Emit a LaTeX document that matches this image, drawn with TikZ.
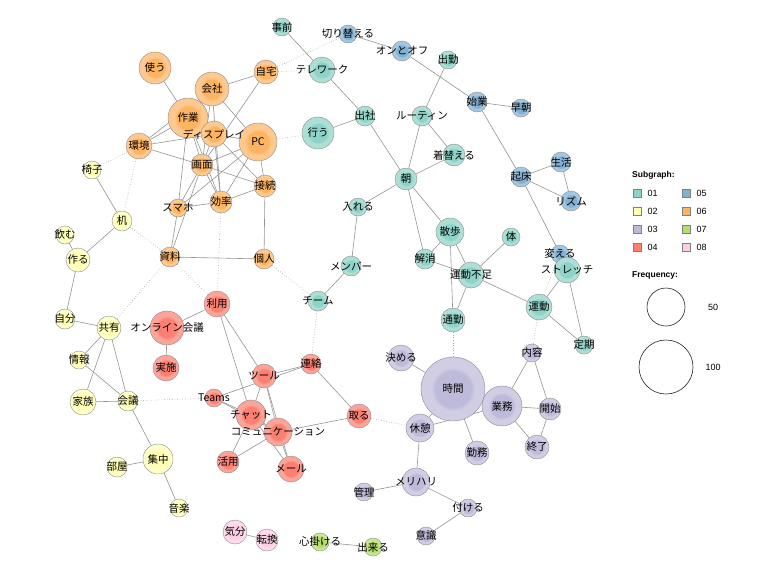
\documentclass[tikz,border=0pt]{standalone}
\usepackage{fontspec}
\setmainfont{Noto Sans CJK JP}
\newfontfamily\legendfont{Liberation Sans}
\usetikzlibrary{positioning}

\definecolor{sg1}{HTML}{8DD3C7}
\definecolor{sg2}{HTML}{FFFFB3}
\definecolor{sg3}{HTML}{BEBADA}
\definecolor{sg4}{HTML}{FB8072}
\definecolor{sg5}{HTML}{80B1D3}
\definecolor{sg6}{HTML}{FDB462}
\definecolor{sg7}{HTML}{B3DE69}
\definecolor{sg8}{HTML}{FCCDE5}
\colorlet{corein}{sg1}
\colorlet{coreout}{sg1!75!white}

% darker core inside a lighter ring
\pgfdeclareradialshading[corein,coreout]{core}{\pgfpoint{0bp}{0bp}}{color(0bp)=(corein); color(14bp)=(corein); color(17bp)=(coreout); color(25bp)=(coreout); color(50bp)=(coreout)}

\pgfdeclarelayer{edges}
\pgfsetlayers{edges,main}

\tikzset{
  word/.style={circle, draw=black!45, line width=0.4pt, inner sep=0pt, minimum size=#1pt},
  sg/.style={/utils/exec={\colorlet{corein}{#1}\colorlet{coreout}{#1!72!white}}, shading=core},
  g1/.style={sg=sg1},
  g2/.style={sg=sg2},
  g3/.style={sg=sg3},
  g4/.style={sg=sg4},
  g5/.style={sg=sg5},
  g6/.style={sg=sg6},
  g7/.style={sg=sg7},
  g8/.style={sg=sg8},
  lbl/.style={inner sep=0pt, font=\fontsize{10.5}{12}\selectfont},
  link/.style={draw=black!42, line width=0.6pt},
  cross/.style={draw=black!35, line width=0.6pt, dotted},
  key/.style={draw=black!50, line width=0.8pt, minimum size=8pt, inner sep=0pt},
  legend/.style={inner sep=0pt, font=\legendfont\fontsize{9}{10}\selectfont}
}

\begin{document}
\begin{tikzpicture}[x=1pt, y=-1pt]
		\useasboundingbox (0,0) rectangle (767,576);

		% subgraph 06
		\node[word=32, g6] (tsukau) at (155,68) {};
		\node[word=34, g6] (kaisha) at (212,89) {};
		\node[word=24, g6] (jitaku) at (266,72) {};
		\node[word=40, g6] (sagyo) at (188,118) {};
		\node[word=38, g6] (pc) at (258,142) {};
		\node[word=26, g6] (display) at (214,134) {};
		\node[word=26, g6] (kankyo) at (139,146) {};
		\node[word=22, g6] (gamen) at (202,165) {};
		\node[word=22, g6] (setsuzoku) at (265,186) {};
		\node[word=22, g6] (koritsu) at (221,202) {};
		\node[word=18, g6] (sumaho) at (178,208) {};
		\node[word=20, g6] (shiryo) at (170,257) {};
		\node[word=20, g6] (kojin) at (264,259) {};

		% subgraph 01
		\node[word=18, g1] (jizen) at (282,27) {};
		\node[word=26, g1] (telework) at (322,70) {};
		\node[word=32, g1] (okonau) at (318,133) {};
		\node[word=20, g1] (shussha) at (365,116) {};
		\node[word=20, g1] (routine) at (422,116) {};
		\node[word=18, g1] (shukkin) at (448,60) {};
		\node[word=22, g1] (kigaeru) at (454,155) {};
		\node[word=22, g1] (asa) at (406,179) {};
		\node[word=18, g1] (ireru) at (358,207) {};
		\node[word=20, g1] (member) at (351,266) {};
		\node[word=20, g1] (team) at (318,301) {};
		\node[word=28, g1] (sanpo) at (450,232) {};
		\node[word=18, g1] (karada) at (511,237) {};
		\node[word=20, g1] (kaisho) at (425,259) {};
		\node[word=26, g1] (busoku) at (471,275) {};
		\node[word=26, g1] (undo) at (539,307) {};
		\node[word=24, g1] (tsukin) at (453,320) {};
		\node[word=18, g1] (teiki) at (584,345) {};

		% subgraph 05
		\node[word=18, g5] (kirikaeru) at (348,34) {};
		\node[word=20, g5] (onoff) at (402,51) {};
		\node[word=20, g5] (shigyo) at (477,102) {};
		\node[word=18, g5] (soucho) at (521,108) {};
		\node[word=20, g5] (kisho) at (521,177) {};
		\node[word=20, g5] (seikatsu) at (561,162) {};
		\node[word=20, g5] (rhythm) at (571,201) {};
		\node[word=18, g5] (kaeru) at (560,254) {};
		\node[word=26, g1] (stretch) at (567,270) {};

		% subgraph 02
		\node[word=18, g2] (isu) at (92,170) {};
		\node[word=20, g2] (tsukue) at (122,221) {};
		\node[word=18, g2] (nomu) at (65,235) {};
		\node[word=24, g2] (tsukuru) at (78,260) {};
		\node[word=20, g2] (jibun) at (65,319) {};
		\node[word=24, g2] (kyoyu) at (109,328) {};
		\node[word=18, g2] (joho) at (79,360) {};
		\node[word=26, g2] (kazoku) at (83,402) {};
		\node[word=20, g2] (kaigi) at (128,401) {};
		\node[word=30, g2] (shuchu) at (158,459) {};
		\node[word=20, g2] (heya) at (117,467) {};
		\node[word=18, g2] (ongaku) at (179,508) {};

		% subgraph 04
		\node[word=26, g4] (riyo) at (217,304) {};
		\node[word=34, g4] (online) at (167,328) {};
		\node[word=26, g4] (jisshi) at (166,368) {};
		\node[word=20, g4] (renraku) at (311,364) {};
		\node[word=24, g4] (tool) at (264,376) {};
		\node[word=18, g4] (teams) at (214,398) {};
		\node[word=28, g4] (comm) at (278,432) {};
		\node[word=30, g4] (chat) at (251,415) {};
		\node[word=24, g4] (toru) at (359,416) {};
		\node[word=22, g4] (katsuyo) at (228,462) {};
		\node[word=26, g4] (mail) at (291,469) {};

		% subgraph 03
		\node[word=26, g3] (kimeru) at (401,358) {};
		\node[word=64, g3] (jikan) at (453,389) {};
		\node[word=40, g3] (gyomu) at (502,406) {};
		\node[word=18, g3] (naiyo) at (532,353) {};
		\node[word=22, g3] (kaishi) at (550,409) {};
		\node[word=24, g3] (shuryo) at (537,447) {};
		\node[word=28, g3] (kyukei) at (420,428) {};
		\node[word=24, g3] (kinmu) at (477,453) {};
		\node[word=28, g3] (meriharu) at (416,482) {};
		\node[word=18, g3] (kanri) at (364,492) {};
		\node[word=18, g3] (tsukeru) at (468,508) {};
		\node[word=18, g3] (ishiki) at (426,536) {};

		% subgraphs 07, 08
		\node[word=18, g7] (kokorogakeru) at (320,542) {};
		\node[word=18, g7] (dekiru) at (373,547) {};
		\node[word=24, g8] (kibun) at (235,532) {};
		\node[word=22, g8] (tenkan) at (267,540) {};

		% labels on top
		\node[lbl] (tsukau-l) at (tsukau) {使う};
		\node[lbl] (kaisha-l) at (kaisha) {会社};
		\node[lbl] (jitaku-l) at (jitaku) {自宅};
		\node[lbl] (sagyo-l) at (sagyo) {作業};
		\node[lbl] (pc-l) at (pc) {PC};
		\node[lbl] (display-l) at (display) {ディスプレイ};
		\node[lbl] (kankyo-l) at (kankyo) {環境};
		\node[lbl] (gamen-l) at (gamen) {画面};
		\node[lbl] (setsuzoku-l) at (setsuzoku) {接続};
		\node[lbl] (koritsu-l) at (koritsu) {効率};
		\node[lbl] (sumaho-l) at (sumaho) {スマホ};
		\node[lbl] (shiryo-l) at (shiryo) {資料};
		\node[lbl] (kojin-l) at (kojin) {個人};
		\node[lbl] (jizen-l) at (jizen) {事前};
		\node[lbl] (telework-l) at (telework) {テレワーク};
		\node[lbl] (okonau-l) at (okonau) {行う};
		\node[lbl] (shussha-l) at (shussha) {出社};
		\node[lbl] (routine-l) at (routine) {ルーティン};
		\node[lbl] (shukkin-l) at (shukkin) {出勤};
		\node[lbl] (kigaeru-l) at (kigaeru) {着替える};
		\node[lbl] (asa-l) at (asa) {朝};
		\node[lbl] (ireru-l) at (ireru) {入れる};
		\node[lbl] (member-l) at (member) {メンバー};
		\node[lbl] (team-l) at (team) {チーム};
		\node[lbl] (sanpo-l) at (sanpo) {散歩};
		\node[lbl] (karada-l) at (karada) {体};
		\node[lbl] (kaisho-l) at (kaisho) {解消};
		\node[lbl] (busoku-l) at (busoku) {運動不足};
		\node[lbl] (undo-l) at (undo) {運動};
		\node[lbl] (tsukin-l) at (tsukin) {通勤};
		\node[lbl] (stretch-l) at (stretch) {ストレッチ};
		\node[lbl] (teiki-l) at (teiki) {定期};
		\node[lbl] (kirikaeru-l) at (kirikaeru) {切り替える};
		\node[lbl] (onoff-l) at (onoff) {オンとオフ};
		\node[lbl] (shigyo-l) at (shigyo) {始業};
		\node[lbl] (soucho-l) at (soucho) {早朝};
		\node[lbl] (kisho-l) at (kisho) {起床};
		\node[lbl] (seikatsu-l) at (seikatsu) {生活};
		\node[lbl] (rhythm-l) at (rhythm) {リズム};
		\node[lbl] (kaeru-l) at (kaeru) {変える};
		\node[lbl] (isu-l) at (isu) {椅子};
		\node[lbl] (tsukue-l) at (tsukue) {机};
		\node[lbl] (nomu-l) at (nomu) {飲む};
		\node[lbl] (tsukuru-l) at (tsukuru) {作る};
		\node[lbl] (jibun-l) at (jibun) {自分};
		\node[lbl] (kyoyu-l) at (kyoyu) {共有};
		\node[lbl] (joho-l) at (joho) {情報};
		\node[lbl] (kazoku-l) at (kazoku) {家族};
		\node[lbl] (kaigi-l) at (kaigi) {会議};
		\node[lbl] (shuchu-l) at (shuchu) {集中};
		\node[lbl] (heya-l) at (heya) {部屋};
		\node[lbl] (ongaku-l) at (ongaku) {音楽};
		\node[lbl] (riyo-l) at (riyo) {利用};
		\node[lbl] (online-l) at (online) {オンライン会議};
		\node[lbl] (jisshi-l) at (jisshi) {実施};
		\node[lbl] (renraku-l) at (renraku) {連絡};
		\node[lbl] (tool-l) at (tool) {ツール};
		\node[lbl] (teams-l) at (teams) {Teams};
		\node[lbl] (chat-l) at (chat) {チャット};
		\node[lbl] (comm-l) at (comm) {コミュニケーション};
		\node[lbl] (toru-l) at (toru) {取る};
		\node[lbl] (katsuyo-l) at (katsuyo) {活用};
		\node[lbl] (mail-l) at (mail) {メール};
		\node[lbl] (kimeru-l) at (kimeru) {決める};
		\node[lbl] (jikan-l) at (jikan) {時間};
		\node[lbl] (gyomu-l) at (gyomu) {業務};
		\node[lbl] (naiyo-l) at (naiyo) {内容};
		\node[lbl] (kaishi-l) at (kaishi) {開始};
		\node[lbl] (shuryo-l) at (shuryo) {終了};
		\node[lbl] (kyukei-l) at (kyukei) {休憩};
		\node[lbl] (kinmu-l) at (kinmu) {勤務};
		\node[lbl] (meriharu-l) at (meriharu) {メリハリ};
		\node[lbl] (kanri-l) at (kanri) {管理};
		\node[lbl] (tsukeru-l) at (tsukeru) {付ける};
		\node[lbl] (ishiki-l) at (ishiki) {意識};
		\node[lbl] (kokorogakeru-l) at (kokorogakeru) {心掛ける};
		\node[lbl] (dekiru-l) at (dekiru) {出来る};
		\node[lbl] (kibun-l) at (kibun) {気分};
		\node[lbl] (tenkan-l) at (tenkan) {転換};

		\begin{pgfonlayer}{edges}
		% 06
		\draw[link] (tsukau) -- (sagyo);
		\draw[link] (kaisha) -- (sagyo);
		\draw[link] (kaisha) -- (jitaku);
		\draw[link] (kaisha) -- (pc);
		\draw[link] (kaisha) -- (gamen);
		\draw[link] (kaisha) -- (koritsu);
		\draw[link] (kankyo) -- (sagyo);
		\draw[link] (kankyo) -- (kaisha);
		\draw[link] (kankyo) -- (display);
		\draw[link] (kankyo) -- (gamen);
		\draw[link] (sagyo) -- (display);
		\draw[link] (sagyo) -- (gamen);
		\draw[link] (sagyo) -- (koritsu);
		\draw[link] (sagyo) -- (sumaho);
		\draw[link] (display) -- (pc);
		\draw[link] (display) -- (gamen);
		\draw[link] (display) -- (setsuzoku);
		\draw[link] (display) -- (koritsu);
		\draw[link] (pc) -- (gamen);
		\draw[link] (pc) -- (setsuzoku);
		\draw[link] (pc) -- (koritsu);
		\draw[link] (pc) -- (sumaho);
		\draw[link] (gamen) -- (setsuzoku);
		\draw[link] (gamen) -- (koritsu);
		\draw[link] (gamen) -- (sumaho);
		\draw[link] (jitaku) -- (gamen);
		\draw[link] (koritsu) -- (setsuzoku);
		\draw[link] (koritsu) -- (sumaho);
		\draw[link] (setsuzoku) -- (kojin);
		\draw[link] (shiryo) -- (kojin);
		\draw[link] (shiryo) -- (sumaho);
		\draw[link] (shiryo) -- (gamen);
		% 01
		\draw[link] (jizen) -- (telework);
		\draw[link] (telework) -- (shussha);
		\draw[link] (okonau) -- (shussha);
		\draw[link] (shussha) -- (asa);
		\draw[link] (routine) -- (shukkin);
		\draw[link] (routine) -- (asa);
		\draw[link] (routine) -- (kigaeru);
		\draw[link] (asa) -- (kigaeru);
		\draw[link] (asa) -- (ireru);
		\draw[link] (asa) -- (sanpo);
		\draw[link] (asa) -- (kaisho);
		\draw[link] (ireru) -- (member);
		\draw[link] (member) -- (team);
		\draw[link] (sanpo) -- (kaisho);
		\draw[link] (sanpo) -- (busoku);
		\draw[link] (sanpo) -- (tsukin);
		\draw[link] (kaisho) -- (busoku);
		\draw[link] (karada) -- (busoku);
		\draw[link] (busoku) -- (tsukin);
		\draw[link] (busoku) -- (undo);
		\draw[link] (undo) -- (stretch);
		\draw[link] (undo) -- (teiki);
		\draw[link] (stretch) -- (teiki);
		% 05
		\draw[link] (kirikaeru) -- (onoff);
		\draw[link] (onoff) -- (shigyo);
		\draw[link] (shigyo) -- (soucho);
		\draw[link] (shigyo) -- (kisho);
		\draw[link] (kisho) -- (seikatsu);
		\draw[link] (kisho) -- (rhythm);
		\draw[link] (seikatsu) -- (rhythm);
		\draw[link] (kisho) -- (kaeru);
		% 02
		\draw[link] (isu) -- (tsukue);
		\draw[link] (tsukue) -- (tsukuru);
		\draw[link] (nomu) -- (tsukuru);
		\draw[link] (tsukuru) -- (jibun);
		\draw[link] (jibun) -- (kyoyu);
		\draw[link] (kyoyu) -- (joho);
		\draw[link] (kyoyu) -- (kazoku);
		\draw[link] (kyoyu) -- (kaigi);
		\draw[link] (joho) -- (kaigi);
		\draw[link] (kazoku) -- (kaigi);
		\draw[link] (kaigi) -- (shuchu);
		\draw[link] (shuchu) -- (heya);
		\draw[link] (shuchu) -- (ongaku);
		% 04
		\draw[link] (riyo) -- (online);
		\draw[link] (online) -- (jisshi);
		\draw[link] (riyo) -- (tool);
		\draw[link] (riyo) -- (chat);
		\draw[link] (renraku) -- (tool);
		\draw[link] (teams) -- (renraku);
		\draw[link] (tool) -- (chat);
		\draw[link] (tool) -- (comm);
		\draw[link] (tool) -- (mail);
		\draw[link] (teams) -- (chat);
		\draw[link] (teams) -- (comm);
		\draw[link] (chat) -- (comm);
		\draw[link] (chat) -- (katsuyo);
		\draw[link] (comm) -- (katsuyo);
		\draw[link] (chat) -- (mail);
		\draw[link] (comm) -- (mail);
		\draw[link] (comm) -- (toru);
		\draw[link] (renraku) -- (toru);
		% 03
		\draw[link] (kimeru) -- (jikan);
		\draw[link] (jikan) -- (gyomu);
		\draw[link] (jikan) -- (kyukei);
		\draw[link] (jikan) -- (kinmu);
		\draw[link] (gyomu) -- (kyukei);
		\draw[link] (gyomu) -- (naiyo);
		\draw[link] (gyomu) -- (kaishi);
		\draw[link] (gyomu) -- (shuryo);
		\draw[link] (naiyo) -- (kaishi);
		\draw[link] (kaishi) -- (shuryo);
		\draw[link] (kyukei) -- (meriharu);
		\draw[link] (meriharu) -- (kanri);
		\draw[link] (meriharu) -- (tsukeru);
		\draw[link] (tsukeru) -- (ishiki);
		% 07, 08
		\draw[link] (kokorogakeru) -- (dekiru);
		\draw[link] (kibun) -- (tenkan);
		% between subgraphs
		\draw[cross] (jitaku) -- (telework);
		\draw[cross] (jitaku) -- (kirikaeru);
		\draw[cross] (pc) -- (okonau);
		\draw[cross] (kankyo) -- (isu);
		\draw[cross] (kankyo) -- (tsukue);
		\draw[cross] (tsukue) -- (shiryo);
		\draw[cross] (shiryo) -- (riyo);
		\draw[cross] (shiryo) -- (kyoyu);
		\draw[cross] (koritsu) -- (riyo);
		\draw[cross] (kojin) -- (team);
		\draw[cross] (team) -- (renraku);
		\draw[cross] (tsukin) -- (jikan);
		\draw[cross] (undo) -- (naiyo);
		\draw[cross] (undo) -- (kaeru);
		\draw[cross] (kaigi) -- (teams);
		\draw[cross] (toru) -- (kyukei);
		\end{pgfonlayer}

		% legend
		\node[legend, anchor=west, font=\legendfont\bfseries\fontsize{8.5}{10}\selectfont] (sub-h) at (632,175) {Subgraph:};
		\node[key, fill=sg1] (k1) at (637,193) {};
		\node[key, fill=sg2] (k2) at (637,211) {};
		\node[key, fill=sg3] (k3) at (637,229) {};
		\node[key, fill=sg4] (k4) at (637,247) {};
		\node[key, fill=sg5] (k5) at (686,193) {};
		\node[key, fill=sg6] (k6) at (686,211) {};
		\node[key, fill=sg7] (k7) at (686,229) {};
		\node[key, fill=sg8] (k8) at (686,247) {};
		\node[legend, right=6pt of k1] (k1-t) {01};
		\node[legend, right=6pt of k2] (k2-t) {02};
		\node[legend, right=6pt of k3] (k3-t) {03};
		\node[legend, right=6pt of k4] (k4-t) {04};
		\node[legend, right=6pt of k5] (k5-t) {05};
		\node[legend, right=6pt of k6] (k6-t) {06};
		\node[legend, right=6pt of k7] (k7-t) {07};
		\node[legend, right=6pt of k8] (k8-t) {08};
		\node[legend, anchor=west, font=\legendfont\bfseries\fontsize{8.5}{10}\selectfont] (freq-h) at (632,275) {Frequency:};
		\node[circle, draw=black!85, line width=0.6pt, minimum size=38pt] (f50) at (666,307) {};
		\node[circle, draw=black!85, line width=0.6pt, minimum size=54pt] (f100) at (666,367) {};
		\node[legend] (f50-t) at (713,307) {50};
		\node[legend] (f100-t) at (713,367) {100};
\end{tikzpicture}
\end{document}
